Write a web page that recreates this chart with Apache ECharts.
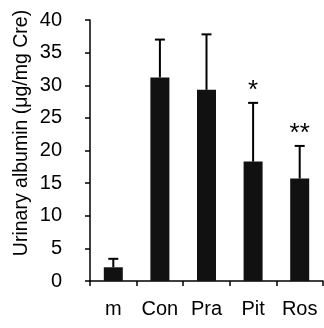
<!DOCTYPE html>
<html>
<head>
<meta charset="utf-8">
<script src="https://cdn.jsdelivr.net/npm/echarts@6/dist/echarts.min.js"></script>
<style>
html,body{margin:0;padding:0;background:#fff;}
#main{width:324px;height:328px;}
</style>
</head>
<body>
<div id="main"></div>
<script>
// 数据
var categories = ['m', 'Con', 'Pra', 'Pit', 'Ros'];
var means = [2.1, 31.2, 29.3, 18.3, 15.7];
var errTops = [3.4, 37.0, 37.8, 27.3, 20.7];
var marks = ['', '', '', '*', '**'];
var yTicks = [0, 5, 10, 15, 20, 25, 30, 35, 40];
var yTitle = 'Urinary albumin (μg/mg Cre)';

var chart = echarts.init(document.getElementById('main'));

var errData = [];
for (var i = 0; i < categories.length; i++) {
    errData.push([i, means[i], errTops[i], marks[i]]);
}

var font = 'Liberation Sans, Arial, sans-serif';

var option = {
    animation: false,
    grid: {
        left: 90,
        right: 1,
        top: 20,
        bottom: 47,
        outerBoundsMode: 'none'
    },
    // y轴标题
    graphic: [{
        type: 'text',
        x: 22,
        y: 133,
        rotation: Math.PI / 2,
        style: {
            text: yTitle,
            align: 'center',
            verticalAlign: 'middle',
            fontSize: 19.5,
            fontFamily: font,
            fill: '#000'
        }
    }],
    xAxis: {
        type: 'category',
        data: categories,
        axisLine: {lineStyle: {color: '#000', width: 1.5}},
        axisTick: {show: true, length: 5, lineStyle: {color: '#000', width: 1.5}},
        axisLabel: {color: '#000', fontSize: 20, fontFamily: font, margin: 18, interval: 0}
    },
    yAxis: {
        type: 'value',
        min: yTicks[0],
        max: yTicks[yTicks.length - 1],
        interval: 5,
        axisLine: {show: true, lineStyle: {color: '#000', width: 1.5}},
        axisTick: {show: true, length: 5, lineStyle: {color: '#000', width: 1.5}},
        axisLabel: {color: '#000', fontSize: 20, fontFamily: font, margin: 28},
        splitLine: {show: false}
    },
    series: [{
        type: 'bar',
        data: means,
        barWidth: 19,
        itemStyle: {color: '#111'}
    }, {
        type: 'custom',
        data: errData,
        z: 3,
        renderItem: function (params, api) {
            var x = api.coord([api.value(0), 0])[0];
            var p1 = api.coord([api.value(0), api.value(1)]);
            var p2 = api.coord([api.value(0), api.value(2)]);
            var style = {stroke: '#000', lineWidth: 2};
            var children = [
                {type: 'line', shape: {x1: x, y1: p1[1], x2: x, y2: p2[1]}, style: style},
                {type: 'line', shape: {x1: x - 5, y1: p2[1], x2: x + 5, y2: p2[1]}, style: style}
            ];
            var mk = marks[params.dataIndex];
            if (mk) {
                children.push({
                    type: 'text',
                    style: {
                        text: mk, x: x, y: p2[1] - 12,
                        align: 'center', verticalAlign: 'middle',
                        fontSize: 26, fontFamily: font, fill: '#000'
                    }
                });
            }
            return {type: 'group', children: children};
        }
    }]
};

chart.setOption(option);
</script>
</body>
</html>
